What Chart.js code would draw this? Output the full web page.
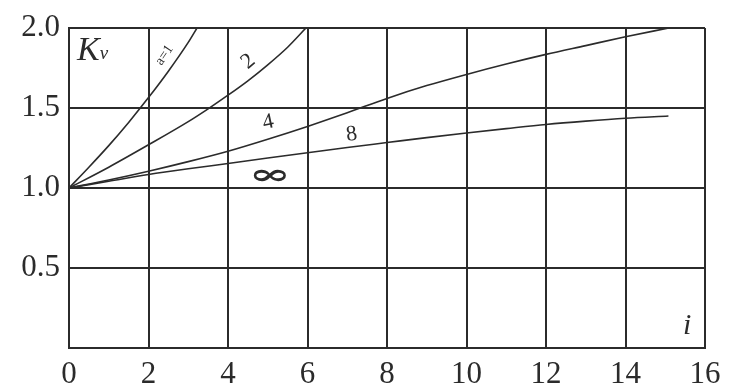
<!DOCTYPE html>
<html>
<head>
<meta charset="utf-8">
<script src="https://cdn.jsdelivr.net/npm/chart.js@4"></script>
<style>
  html, body { margin: 0; padding: 0; background: #fff; }
  #wrap { width: 729px; height: 392px; }
</style>
</head>
<body>
<div id="wrap"><canvas id="kv-chart" width="729" height="392"></canvas></div>
<script>
// Kv versus i, one curve per value of a
const xTicks = [0, 2, 4, 6, 8, 10, 12, 14, 16];
const yTicks = [0, 0.5, 1.0, 1.5, 2.0];

const a1I = [0, 0.5, 1, 1.5, 2, 2.5, 3, 3.22];
const a1K = [1.0, 1.13, 1.265, 1.41, 1.565, 1.73, 1.91, 2.0];

const a2I = [0, 1, 2, 3, 3.5, 4, 4.5, 5, 5.5, 5.96];
const a2K = [1.0, 1.13, 1.27, 1.415, 1.495, 1.58, 1.67, 1.77, 1.88, 2.0];

const a4I = [0, 1, 2, 3, 4, 5, 6, 7, 8, 9, 10, 11, 12, 13, 14, 15.09];
const a4K = [1.0, 1.05, 1.105, 1.165, 1.23, 1.305, 1.385, 1.47, 1.56, 1.64, 1.71, 1.775, 1.835, 1.89, 1.945, 2.0];

const a8I = [0, 1, 2, 3, 4, 5, 6, 7, 8, 9, 10, 11, 12, 13, 14, 15.08];
const a8K = [1.0, 1.042, 1.084, 1.12, 1.153, 1.187, 1.22, 1.253, 1.284, 1.315, 1.344, 1.371, 1.397, 1.418, 1.436, 1.45];

// curve labels: text, i, Kv, rotation (deg), font, optional stretch
const labels = [
    { text: 'a=1', i: 2.4, k: 1.83, rot: -56, font: '14px "Liberation Serif"' },
    { text: '2', i: 4.51, k: 1.79, rot: -40, font: '22px "Liberation Serif"' },
    { text: '4', i: 5.01, k: 1.41, rot: -12, font: '22px "Liberation Serif"' },
    { text: '8', i: 7.11, k: 1.335, rot: -8, font: '22px "Liberation Serif"' },
    { text: '\u221E', i: 5.05, k: 1.07, rot: 0, font: 'bold 44px "DejaVu Serif"', sx: 1.15, sy: 0.66 }
];

function toPoints(xs, ys) {
    return xs.map((x, n) => ({ x: x, y: ys[n] }));
}

const ink = '#2b2b2b';

const curveLabels = {
    id: 'curveLabels',
    afterDatasetsDraw(chart) {
        const ctx = chart.ctx;
        const xs = chart.scales.x;
        const ys = chart.scales.y;
        ctx.save();
        ctx.fillStyle = ink;
        labels.forEach(l => {
            ctx.save();
            ctx.translate(xs.getPixelForValue(l.i), ys.getPixelForValue(l.k));
            ctx.rotate(l.rot * Math.PI / 180);
            ctx.scale(l.sx || 1, l.sy || 1);
            ctx.font = l.font;
            ctx.textAlign = 'center';
            ctx.textBaseline = 'middle';
            ctx.fillText(l.text, 0, 0);
            ctx.restore();
        });

        // axis names
        ctx.textAlign = 'left';
        ctx.textBaseline = 'alphabetic';
        const kx = xs.getPixelForValue(0.2);
        const ky = ys.getPixelForValue(1.8);
        ctx.font = 'italic 34px "Liberation Serif"';
        ctx.fillText('K', kx, ky);
        const kw = ctx.measureText('K').width;
        ctx.font = 'italic 19px "Liberation Serif"';
        ctx.fillText('v', kx + kw, ky - 1);

        ctx.font = 'italic 30px "Liberation Serif"';
        ctx.textAlign = 'center';
        ctx.fillText('i', xs.getPixelForValue(15.55), ys.getPixelForValue(0.085));
        ctx.restore();
    }
};

function curve(xs, ys) {
    return {
        data: toPoints(xs, ys),
        showLine: true,
        borderColor: ink,
        borderWidth: 1.6,
        pointRadius: 0,
        cubicInterpolationMode: 'monotone',
        fill: false
    };
}

const tickFont = { family: '"Liberation Serif", serif', size: 31 };

new Chart(document.getElementById('kv-chart'), {
    type: 'scatter',
    data: {
        datasets: [
            curve(a1I, a1K),
            curve(a2I, a2K),
            curve(a4I, a4K),
            curve(a8I, a8K)
        ]
    },
    options: {
        responsive: false,
        animation: false,
        layout: { padding: { top: 28, right: 24, left: 0, bottom: 0 } },
        plugins: {
            legend: { display: false },
            tooltip: { enabled: false }
        },
        scales: {
            x: {
                type: 'linear',
                min: 0,
                max: 16,
                afterBuildTicks: s => { s.ticks = xTicks.map(v => ({ value: v })); },
                afterFit: s => { s.height = 44; },
                grid: { color: ink, lineWidth: 2, drawTicks: false },
                border: { color: ink, width: 2 },
                ticks: { color: ink, font: tickFont, padding: 8, maxRotation: 0 }
            },
            y: {
                type: 'linear',
                min: 0,
                max: 2,
                afterBuildTicks: s => { s.ticks = yTicks.map(v => ({ value: v })); },
                afterFit: s => { s.width = 69; },
                grid: { color: ink, lineWidth: 2, drawTicks: false },
                border: { color: ink, width: 2 },
                ticks: {
                    color: ink,
                    font: tickFont,
                    padding: 9,
                    callback: v => (v === 0 ? '' : v.toFixed(1))
                }
            }
        }
    },
    plugins: [curveLabels]
});
</script>
</body>
</html>
